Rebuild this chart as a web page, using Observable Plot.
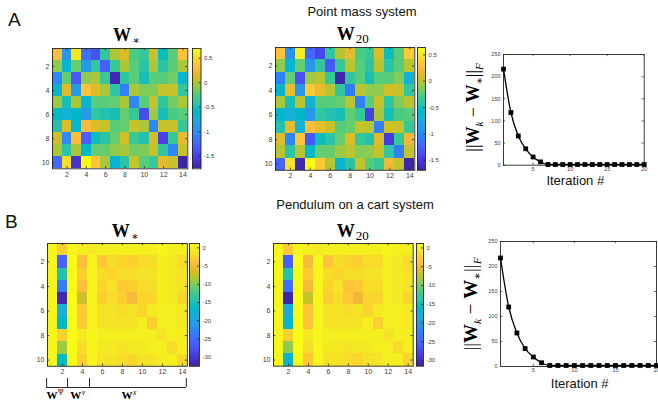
<!DOCTYPE html>
<html>
<head>
<meta charset="utf-8">
<script src="https://cdn.jsdelivr.net/npm/d3@7"></script>
<script src="https://cdn.jsdelivr.net/npm/@observablehq/plot@0.6"></script>
<style>
  html, body { margin: 0; padding: 0; background: #fff; }
  #fig { position: relative; width: 658px; height: 412px; overflow: hidden; background: #fff;
         font-family: "Liberation Sans", Arial, sans-serif; }
</style>
</head>
<body>
<div id="fig"></div>
<script>
// ---------------- DATA ----------------
const rowNumbers = [1, 2, 3, 4, 5, 6, 7, 8, 9, 10];
const colNumbers = [1, 2, 3, 4, 5, 6, 7, 8, 9, 10, 11, 12, 13, 14];
const heatXTicks = [2, 4, 6, 8, 10, 12, 14];
const heatYTicks = [2, 4, 6, 8, 10];

// Point mass system: W_* (10 x 14)
const pointMassWstar = [
  [ 0.30, -0.95,  0.55, -1.20, -1.40, -0.40,  0.00,  0.15, -0.28, -0.35,  0.10, -0.55, -0.25,  0.32],
  [-0.10, -0.65, -0.20, -0.90, -0.40, -1.30, -0.35,  0.00, -0.25, -0.45,  0.00, -0.45, -0.25,  0.00],
  [-1.05, -0.20, -1.35, -0.08,  0.00, -0.35, -1.70, -0.38, -0.25, -0.50, -0.25, -0.25, -0.15, -0.68],
  [-0.65,  0.15, -0.90,  0.32,  0.15,  0.00, -0.38, -1.10,  0.00, -0.12, -0.12,  0.08,  0.05, -0.40],
  [-0.05, -0.50,  0.00, -0.68, -0.25, -0.25, -0.20,  0.00, -1.05, -0.25,  0.05, -0.40, -0.15,  0.00],
  [-0.60, -0.72, -0.62, -0.90, -0.38, -0.48, -0.52, -0.20, -0.35, -1.45, -0.05, -0.52, -0.28, -0.25],
  [-0.48,  0.15, -0.68,  0.25,  0.15,  0.05, -0.25, -0.20,  0.05,  0.00, -1.05,  0.08,  0.05, -0.35],
  [ 0.12, -1.00,  0.30, -1.30, -0.55, -0.45, -0.20,  0.12, -0.35, -0.48,  0.12, -1.50, -0.35,  0.20],
  [ 0.00, -0.42,  0.00, -0.62, -0.20, -0.20, -0.08,  0.00, -0.15, -0.12,  0.05, -0.38, -1.05,  0.05],
  [-1.25,  0.48, -1.62,  0.70,  0.32,  0.00, -0.65, -0.42,  0.05, -0.25, -0.35,  0.20,  0.05, -1.76]
];
// Point mass system: W_20 (converged, visually identical to W_*)
const pointMassW20 = pointMassWstar;

// Pendulum on a cart: W_* (10 x 14)
const pendulumWstar = [
  [0.5,  -3.0, 0.6, -0.3, -0.8,  0.0,  0.0, -0.2, -0.3,  0.0,  0.0,  0.2,  0.0, -0.3],
  [0.5, -25.8, 0.9, -4.5,  0.5, -3.5, -1.5, -2.0, -2.5, -1.5, -1.5,  0.0, -0.8, -1.5],
  [0.5, -14.6, 0.9, -3.0,  0.5, -1.5, -2.0, -1.5, -1.5, -1.0, -1.0,  0.0, -0.5, -1.0],
  [0.5, -24.0, 0.9, -4.5,  0.5, -2.0, -1.0, -3.5, -3.0, -1.5, -1.5,  0.0, -0.5, -1.2],
  [0.5, -31.8, 0.9, -7.0,  0.5, -2.8, -1.5, -3.0, -5.0, -2.0, -2.0,  0.0, -0.5, -2.0],
  [0.5, -18.3, 0.9, -3.5,  0.5, -1.2, -1.0, -1.5, -1.2, -2.0, -0.5,  0.0,  0.0, -0.5],
  [0.5, -17.0, 0.9, -3.5,  0.5, -1.2, -1.0, -1.2, -1.0,  0.0, -2.5,  0.0,  0.0, -0.5],
  [0.5,  -2.5, 0.9, -0.5,  0.5,  0.0,  0.0,  0.0,  0.0,  0.0,  0.0, -1.0,  0.0,  0.0],
  [0.5,  -9.2, 0.9, -1.5,  0.5, -0.5, -0.5, -1.0, -0.5, -0.5,  0.0,  0.0, -1.5,  0.0],
  [0.5, -16.7, 0.9, -3.0,  0.5, -1.0, -1.0, -1.5, -2.0, -1.0, -1.0,  0.0,  0.0, -2.0]
];
const pendulumW20 = pendulumWstar;

// colour limits
const pmWstarLimits = [-1.76, 0.70];
const pmW20Limits = [-1.69, 0.64];
const pcWstarLimits = [-32.5, 1.2];
const pcW20Limits = [-31.5, 1.2];
const pmBarTicks = [0.5, 0, -0.5, -1, -1.5];
const pcBarTicks = [0, -5, -10, -15, -20, -25, -30];

// convergence ||W_k - W_*||_F
const iterations = [1, 2, 3, 4, 5, 6, 7, 8, 9, 10, 11, 12, 13, 14, 15, 16, 17, 18, 19, 20];
const pointMassError = [217, 119, 66, 37, 18.5, 7.5, 1.5, 1.5, 1.5, 1.5, 1.5, 1.5, 1.5, 1.5, 1.5, 1.5, 1.5, 1.5, 1.5, 1.5];
const pendulumError  = [217, 119, 67, 36, 19, 7.5, 2, 2, 2, 2, 2, 2, 2, 2, 2, 2, 2, 2, 2, 2];
const iterTicks = [5, 10, 15, 20];
const errorTicks = [0, 50, 100, 150, 200, 250];

// block annotation under the pendulum W_*
const bracketEdges = [0.4, 2.5, 4.7, 14.4];
const bracketGroups = [
  { sup: "Ψ", at: 1.35, italic: false },
  { sup: "ν", at: 3.6, italic: true },
  { sup: "x", at: 8.75, italic: true }
];

// ---------------- COLORMAP (MATLAB parula, 64 levels) ----------------
const parulaRGB = [
[0.2422,0.1504,0.6603],[0.2504,0.1650,0.7076],[0.2578,0.1818,0.7511],[0.2647,0.1978,0.7952],
[0.2706,0.2147,0.8364],[0.2751,0.2342,0.8710],[0.2783,0.2559,0.8991],[0.2803,0.2782,0.9221],
[0.2813,0.3006,0.9414],[0.2810,0.3228,0.9579],[0.2795,0.3447,0.9717],[0.2760,0.3667,0.9829],
[0.2699,0.3892,0.9906],[0.2602,0.4123,0.9952],[0.2440,0.4358,0.9988],[0.2206,0.4603,0.9973],
[0.1963,0.4847,0.9892],[0.1834,0.5074,0.9798],[0.1786,0.5289,0.9682],[0.1764,0.5499,0.9520],
[0.1687,0.5703,0.9359],[0.1540,0.5902,0.9218],[0.1460,0.6091,0.9079],[0.1380,0.6276,0.8973],
[0.1248,0.6459,0.8883],[0.1113,0.6635,0.8763],[0.0952,0.6798,0.8598],[0.0689,0.6948,0.8394],
[0.0297,0.7082,0.8163],[0.0036,0.7203,0.7917],[0.0067,0.7312,0.7660],[0.0433,0.7411,0.7394],
[0.0964,0.7500,0.7120],[0.1408,0.7584,0.6842],[0.1717,0.7670,0.6554],[0.1938,0.7758,0.6251],
[0.2161,0.7843,0.5923],[0.2470,0.7918,0.5567],[0.2906,0.7973,0.5188],[0.3406,0.8008,0.4789],
[0.3909,0.8029,0.4354],[0.4456,0.8024,0.3909],[0.5044,0.7993,0.3480],[0.5616,0.7942,0.3045],
[0.6174,0.7876,0.2612],[0.6720,0.7793,0.2227],[0.7242,0.7698,0.1910],[0.7738,0.7598,0.1646],
[0.8203,0.7498,0.1535],[0.8634,0.7406,0.1596],[0.9035,0.7330,0.1774],[0.9393,0.7288,0.2100],
[0.9728,0.7298,0.2394],[0.9956,0.7434,0.2371],[0.9970,0.7659,0.2199],[0.9952,0.7893,0.2028],
[0.9892,0.8136,0.1885],[0.9786,0.8386,0.1766],[0.9676,0.8639,0.1643],[0.9610,0.8890,0.1537],
[0.9597,0.9135,0.1423],[0.9628,0.9373,0.1265],[0.9691,0.9606,0.1064],[0.9769,0.9839,0.0805]];
const parulaHex = parulaRGB.map(([r, g, b]) => d3.rgb(r * 255, g * 255, b * 255).formatHex());
const parula = t => parulaHex[Math.max(0, Math.min(63, Math.floor(t * 64)))];

// ---------------- LAYOUT ----------------
const AX = "#262626";
const TXT = "#404040";
const SANS = "'Liberation Sans', Arial, Helvetica, sans-serif";
const SERIF = "'Liberation Serif', 'DejaVu Serif', serif";
const fig = document.getElementById("fig");

function place(svg, left, top) {
  svg.style.position = "absolute";
  svg.style.left = left + "px";
  svg.style.top = top + "px";
  svg.style.overflow = "visible";
  fig.appendChild(svg);
  return svg;
}
const fmt = d => String(d);

function heatPanel(matrix, limits, f) {
  const mL = 16, mR = 2, mT = 2, mB = 12, tk = 2.2;
  const W = f.r - f.l, H = f.b - f.t;
  const cells = matrix.flatMap((row, i) => row.map((v, j) => ({ r: rowNumbers[i], c: colNumbers[j], v })));
  const svg = Plot.plot({
    width: W + mL + mR, height: H + mT + mB,
    marginLeft: mL, marginRight: mR, marginTop: mT, marginBottom: mB,
    x: { domain: [0.5, 14.5], axis: null },
    y: { domain: [0.5, 10.5], reverse: true, axis: null },
    color: { type: "linear", domain: limits, interpolate: parula, clamp: true },
    style: { fontFamily: SANS, fontSize: "7px", color: TXT, background: "transparent", overflow: "visible" },
    marks: [
      Plot.rect(cells, { x1: d => d.c - 0.5, x2: d => d.c + 0.5, y1: d => d.r - 0.5, y2: d => d.r + 0.5,
                         fill: "v", shapeRendering: "crispEdges" }),
      Plot.axisX(heatXTicks, { anchor: "bottom", tickSize: 0, tickPadding: 3, tickFormat: fmt, label: null, fill: TXT }),
      Plot.axisY(heatYTicks, { anchor: "left", tickSize: 0, tickPadding: 3, tickFormat: fmt, label: null, fill: TXT }),
      Plot.tickX(heatXTicks, { x: d => d, insetTop: H - tk, stroke: AX, strokeWidth: 0.8 }),
      Plot.tickX(heatXTicks, { x: d => d, insetBottom: H - tk, stroke: AX, strokeWidth: 0.8 }),
      Plot.tickY(heatYTicks, { y: d => d, insetRight: W - tk, stroke: AX, strokeWidth: 0.8 }),
      Plot.tickY(heatYTicks, { y: d => d, insetLeft: W - tk, stroke: AX, strokeWidth: 0.8 }),
      Plot.frame({ stroke: AX, strokeWidth: 0.9 })
    ]
  });
  return place(svg, f.l - mL, f.t - mT);
}

function colorbarPanel(limits, ticks, f) {
  const mL = 1, mR = 18, mT = 2, mB = 2, tk = 2;
  const W = f.r - f.l, H = f.b - f.t;
  const [lo, hi] = limits;
  const levels = parulaHex.map((c, i) => ({ y1: lo + (hi - lo) * i / 64, y2: lo + (hi - lo) * (i + 1) / 64 }));
  const svg = Plot.plot({
    width: W + mL + mR, height: H + mT + mB,
    marginLeft: mL, marginRight: mR, marginTop: mT, marginBottom: mB,
    y: { domain: limits, axis: null },
    color: { type: "linear", domain: limits, interpolate: parula, clamp: true },
    style: { fontFamily: SANS, fontSize: "6px", color: TXT, background: "transparent", overflow: "visible" },
    marks: [
      Plot.rect(levels, { y1: "y1", y2: "y2", fill: d => (d.y1 + d.y2) / 2, shapeRendering: "crispEdges" }),
      Plot.axisY(ticks, { anchor: "right", tickSize: 0, tickPadding: 3, tickFormat: fmt, label: null, fill: TXT }),
      Plot.tickY(ticks, { y: d => d, insetLeft: W - tk, stroke: AX, strokeWidth: 0.8 }),
      Plot.frame({ stroke: AX, strokeWidth: 0.9 })
    ]
  });
  return place(svg, f.l - mL, f.t - mT);
}

function convergencePanel(errors, f) {
  const mL = 22, mR = 4, mT = 3, mB = 12, tk = 2.2;
  const W = f.r - f.l, H = f.b - f.t;
  const data = iterations.map((k, i) => ({ k, v: errors[i] }));
  const svg = Plot.plot({
    width: W + mL + mR, height: H + mT + mB,
    marginLeft: mL, marginRight: mR, marginTop: mT, marginBottom: mB,
    x: { domain: [1, 20], axis: null },
    y: { domain: [0, 250], axis: null },
    style: { fontFamily: SANS, fontSize: "5.5px", color: TXT, background: "transparent", overflow: "visible" },
    marks: [
      Plot.axisX(iterTicks, { anchor: "bottom", tickSize: 0, tickPadding: 2, tickFormat: fmt, label: null, fill: TXT }),
      Plot.axisY(errorTicks, { anchor: "left", tickSize: 0, tickPadding: 3, tickFormat: fmt, label: null, fill: TXT }),
      Plot.tickX(iterTicks, { x: d => d, insetTop: H - tk, stroke: AX, strokeWidth: 0.7 }),
      Plot.tickX(iterTicks, { x: d => d, insetBottom: H - tk, stroke: AX, strokeWidth: 0.7 }),
      Plot.tickY(errorTicks, { y: d => d, insetRight: W - tk, stroke: AX, strokeWidth: 0.7 }),
      Plot.tickY(errorTicks, { y: d => d, insetLeft: W - tk, stroke: AX, strokeWidth: 0.7 }),
      Plot.frame({ stroke: AX, strokeWidth: 0.9 }),
      Plot.line(data, { x: "k", y: "v", curve: "monotone-x", stroke: "#000", strokeWidth: 1.3 }),
      Plot.dot(data, { x: "k", y: "v", symbol: "square", fill: "#000", stroke: "none", r: 2.7 })
    ]
  });
  return place(svg, f.l - mL, f.t - mT);
}

// ---- draw panels ----
heatPanel(pointMassWstar, pmWstarLimits, { l: 52.2, r: 187.5, t: 47.7, b: 168 });
colorbarPanel(pmWstarLimits, pmBarTicks, { l: 191.5, r: 200, t: 47.7, b: 168 });
heatPanel(pointMassW20, pmW20Limits, { l: 275, r: 414.3, t: 46.7, b: 169.5 });
colorbarPanel(pmW20Limits, pmBarTicks, { l: 417, r: 425, t: 46.7, b: 169.5 });
convergencePanel(pointMassError, { l: 503.3, r: 644, t: 54.3, b: 165 });

const blFrame = { l: 46.6, r: 186.5, t: 242.7, b: 365.5 };
heatPanel(pendulumWstar, pcWstarLimits, blFrame);
colorbarPanel(pcWstarLimits, pcBarTicks, { l: 189, r: 199, t: 242.7, b: 365.5 });
heatPanel(pendulumW20, pcW20Limits, { l: 273.3, r: 413, t: 243.3, b: 366 });
colorbarPanel(pcW20Limits, pcBarTicks, { l: 416, r: 423, t: 243.3, b: 366 });
convergencePanel(pendulumError, { l: 499.5, r: 655.5, t: 241, b: 366 });

// ---- bracket annotation ----
const brF = { l: blFrame.l, r: blFrame.r, t: 378.3, b: 387.3 };
const brML = 3, brMR = 3, brMT = 1, brMB = 1;
const bracket = Plot.plot({
  width: brF.r - brF.l + brML + brMR, height: brF.b - brF.t + brMT + brMB,
  marginLeft: brML, marginRight: brMR, marginTop: brMT, marginBottom: brMB,
  x: { domain: [0.5, 14.5], axis: null },
  y: { domain: [0, 1], axis: null },
  style: { background: "transparent", overflow: "visible" },
  marks: [
    Plot.ruleX(bracketEdges, { x: d => d, stroke: AX, strokeWidth: 1 }),
    Plot.ruleY([0], { y: d => d, x1: bracketEdges[0], x2: bracketEdges[bracketEdges.length - 1], stroke: AX, strokeWidth: 1 })
  ]
});
place(bracket, brF.l - brML, brF.t - brMT);
const brX = bracket.scale("x");

// ---------------- TEXT OVERLAY ----------------
const ov = d3.select(fig).append("svg")
  .attr("width", 658).attr("height", 412)
  .style("position", "absolute").style("left", "0px").style("top", "0px")
  .style("pointer-events", "none");

function sans(x, y, size, text, anchor = "start") {
  ov.append("text").attr("x", x).attr("y", y).attr("font-family", SANS)
    .attr("font-size", size).attr("fill", "#111").attr("text-anchor", anchor).text(text);
}
sans(8, 26, 19, "A");
sans(5, 228, 19, "B");
sans(362, 15.7, 13, "Point mass system", "middle");
sans(355, 209, 13, "Pendulum on a cart system", "middle");
sans(575.3, 185, 13, "Iteration #", "middle");
sans(579.7, 388, 13, "Iteration #", "middle");

function mathTitle(x, y, sub) {
  const t = ov.append("text").attr("x", x).attr("y", y).attr("font-family", SERIF).attr("fill", "#000");
  t.append("tspan").attr("font-weight", "bold").attr("font-size", 18).text("W");
  if (sub === "∗") {
    t.append("tspan").attr("font-family", "'DejaVu Serif', serif").attr("font-size", 11).attr("dx", 1.5).attr("dy", 3).text(sub);
  } else {
    t.append("tspan").attr("font-size", 13).attr("dx", 1).attr("dy", 3).text(sub);
  }
}
mathTitle(113, 41, "∗");
mathTitle(336.7, 40, "20");
mathTitle(111.7, 237, "∗");
mathTitle(336.7, 237, "20");

function normLabel(cx, cy, size) {
  const t = ov.append("text").attr("x", cx).attr("y", cy).attr("text-anchor", "middle")
    .attr("font-family", SERIF).attr("font-size", size).attr("fill", "#000")
    .attr("transform", `rotate(-90,${cx},${cy})`).attr("dy", "0.35em");
  const s = size * 0.6, d = size * 0.22;
  t.append("tspan").text("||");
  t.append("tspan").attr("font-weight", "bold").text("W");
  t.append("tspan").attr("font-size", s).attr("font-style", "italic").attr("dy", d).text("k");
  t.append("tspan").attr("dy", -d).text(" − ");
  t.append("tspan").attr("font-weight", "bold").text("W");
  t.append("tspan").attr("font-size", s).attr("font-family", "'DejaVu Serif', serif").attr("dy", d).text("∗");
  t.append("tspan").attr("dy", -d).text("||");
  t.append("tspan").attr("font-size", s).attr("font-style", "italic").attr("dy", d).text("F");
}
normLabel(473, 107.5, 18);
normLabel(470, 304, 19);

const brLeft = brF.l - brML;
bracketGroups.forEach(g => {
  const t = ov.append("text").attr("x", brLeft + brX.apply(g.at)).attr("y", 399.3)
    .attr("text-anchor", "middle").attr("font-family", SERIF).attr("fill", "#000");
  t.append("tspan").attr("font-weight", "bold").attr("font-size", 11).text("W");
  t.append("tspan").attr("font-size", 7.5).attr("font-style", g.italic ? "italic" : "normal")
    .attr("dy", -4.5).attr("dx", 0.5).text(g.sup);
});
</script>
</body>
</html>
